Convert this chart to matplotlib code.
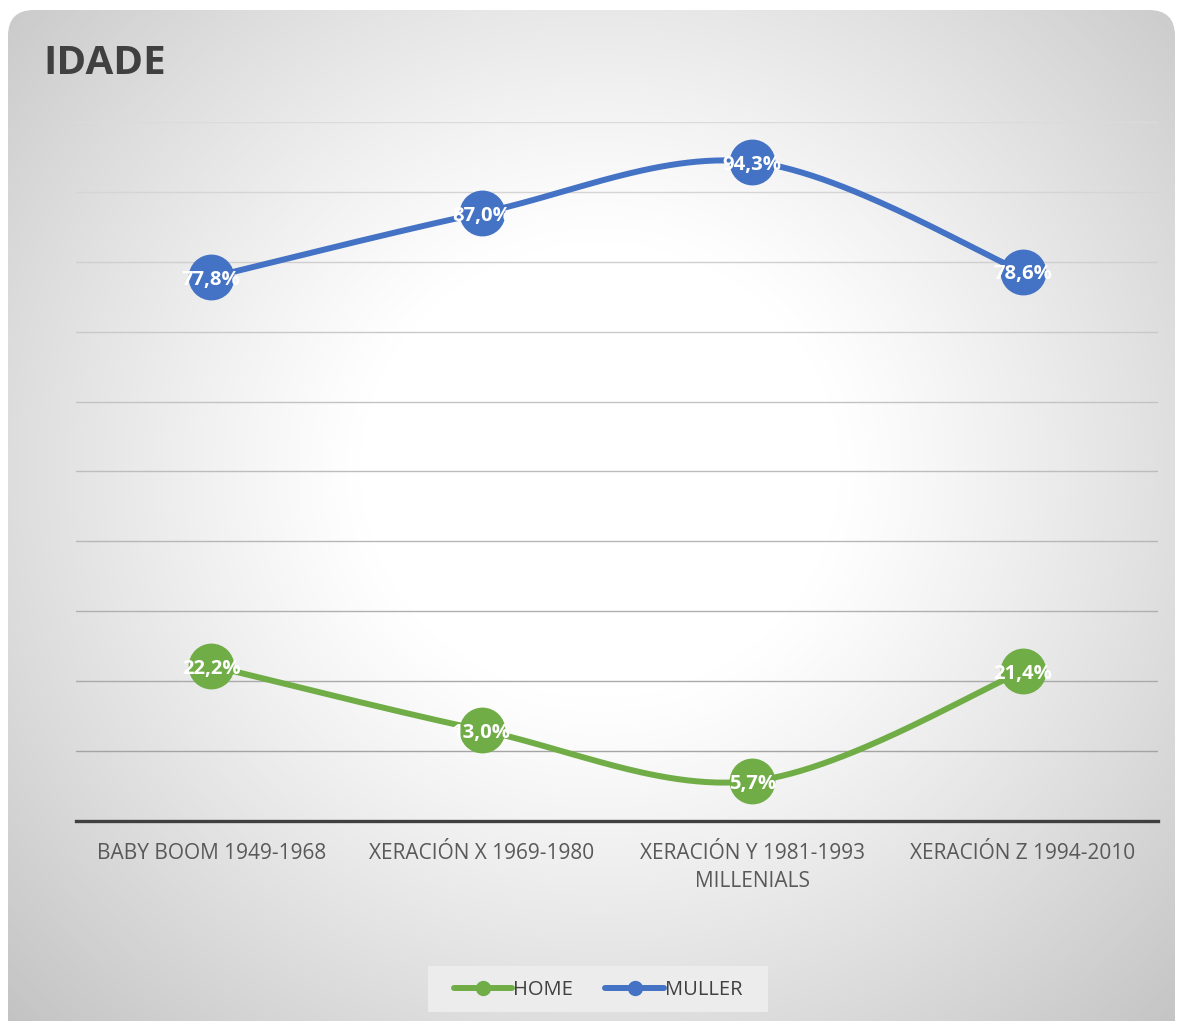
import numpy as np
import matplotlib
matplotlib.use("Agg")
import matplotlib.pyplot as plt
from matplotlib.patches import FancyBboxPatch, Rectangle
from matplotlib.lines import Line2D

categories = ["BABY BOOM 1949-1968", "XERACIÓN X 1969-1980",
              "XERACIÓN Y 1981-1993\nMILLENIALS", "XERACIÓN Z 1994-2010"]
home = [22.2, 13.0, 5.7, 21.4]
muller = [77.8, 87.0, 94.3, 78.6]
series_names = ["HOME", "MULLER"]
title = "IDADE"

GREEN = "#70ad47"
BLUE = "#4472c4"
W, H = 1177, 1021
plt.rcParams['font.family'] = ['Open Sans', 'DejaVu Sans']

fig = plt.figure(figsize=(W / 100, H / 100), dpi=100)
fig.patch.set_facecolor("white")

# background card with radial gradient
bg = fig.add_axes([0, 0, 1, 1], zorder=0)
bg.set_xlim(0, W)
bg.set_ylim(H, 0)
bg.axis("off")
yy, xx = np.mgrid[0:H, 0:W]
r = np.sqrt(((xx - 600) / 1.0) ** 2 + ((yy - 470) / 0.95) ** 2)
t = np.clip((r - 240) / 600, 0, 1)
v = 1 - 0.24 * t ** 1.1
img = np.dstack([v, v, v])
card = FancyBboxPatch((8, 10), W - 8 - 2, H - 10 + 30,
                      boxstyle="round,pad=0,rounding_size=26",
                      facecolor="none", edgecolor="none")
bg.add_patch(card)
im = bg.imshow(img, extent=(0, W, H, 0), interpolation="bilinear")
im.set_clip_path(card)
# legend background box
bg.add_patch(Rectangle((428, 966), 340, 46, facecolor="#ececec", edgecolor="none", zorder=2))

# main axes
left, right = 76 / W, 1158 / W
bottom, top = (H - 821) / H, (H - 122) / H
ax = fig.add_axes([left, bottom, right - left, top - bottom], zorder=1)
ax.patch.set_alpha(0)
ax.set_xlim(-0.5, 3.5)
ax.set_ylim(0, 100)
for s in ["left", "right", "top"]:
    ax.spines[s].set_visible(False)
ax.spines["bottom"].set_color("#404040")
ax.spines["bottom"].set_linewidth(2.4)
ax.set_yticks([])
ax.tick_params(axis="x", length=0, pad=16)
x = np.arange(len(categories))
ax.set_xticks(x)
ax.set_xticklabels(categories, fontsize=15, color="#595959", linespacing=1.45)
for lab in ax.get_xticklabels():
    lab.set_verticalalignment("top")

# gridlines with color varying top->bottom
c_top = np.array([0.86, 0.86, 0.86])
c_bot = np.array([0.62, 0.62, 0.62])
for g in range(10, 101, 10):
    f = g / 100
    c = c_top * f + c_bot * (1 - f)
    ax.axhline(g, color=tuple(c), lw=1.0, zorder=1)


def smooth(xs, ys, n=60, tension=0.5):
    xs = np.asarray(xs, float)
    ys = np.asarray(ys, float)
    px = np.concatenate([[xs[0]], xs, [xs[-1]]])
    py = np.concatenate([[ys[0]], ys, [ys[-1]]])
    ox, oy = [], []
    for i in range(1, len(px) - 2):
        p0 = np.array([px[i - 1], py[i - 1]])
        p1 = np.array([px[i], py[i]])
        p2 = np.array([px[i + 1], py[i + 1]])
        p3 = np.array([px[i + 2], py[i + 2]])
        c1 = p1 + (p2 - p0) * tension / 3
        c2 = p2 - (p3 - p1) * tension / 3
        tt = np.linspace(0, 1, n)[:, None]
        b = ((1 - tt) ** 3) * p1 + 3 * ((1 - tt) ** 2) * tt * c1 + \
            3 * (1 - tt) * tt ** 2 * c2 + tt ** 3 * p2
        ox.extend(b[:, 0])
        oy.extend(b[:, 1])
    return np.array(ox), np.array(oy)


for vals, col in [(home, GREEN), (muller, BLUE)]:
    sx, sy = smooth(x, vals)
    ax.plot(sx, sy, color=col, lw=4.3, solid_capstyle="round", zorder=3)
    ax.plot(x, vals, "o", color=col, ms=32, mec=col, zorder=4)
    for xi, vi in zip(x, vals):
        ax.annotate(f"{vi:.1f}%".replace(".", ","), (xi, vi), xytext=(0, -2),
                    textcoords="offset points", ha="center", va="center",
                    color="white", fontsize=14.6, fontweight="bold", zorder=5)

fig.text(43 / W, 1 - 63 / H, title, fontsize=29, fontweight="bold",
         color="#404040", ha="left", va="center")

handles = [Line2D([0], [0], color=GREEN, lw=4.3, marker="o", ms=10, solid_capstyle="round"),
           Line2D([0], [0], color=BLUE, lw=4.3, marker="o", ms=10, solid_capstyle="round")]
leg = fig.legend(handles, series_names, loc="center", bbox_to_anchor=(598 / W, 1 - 990 / H),
                 ncol=2, frameon=False, fontsize=14.5, handlelength=2.9, handletextpad=0.05,
                 columnspacing=1.6, borderpad=0.6)
for txt in leg.get_texts():
    txt.set_color("#404040")

fig.savefig("out.png", dpi=100)
